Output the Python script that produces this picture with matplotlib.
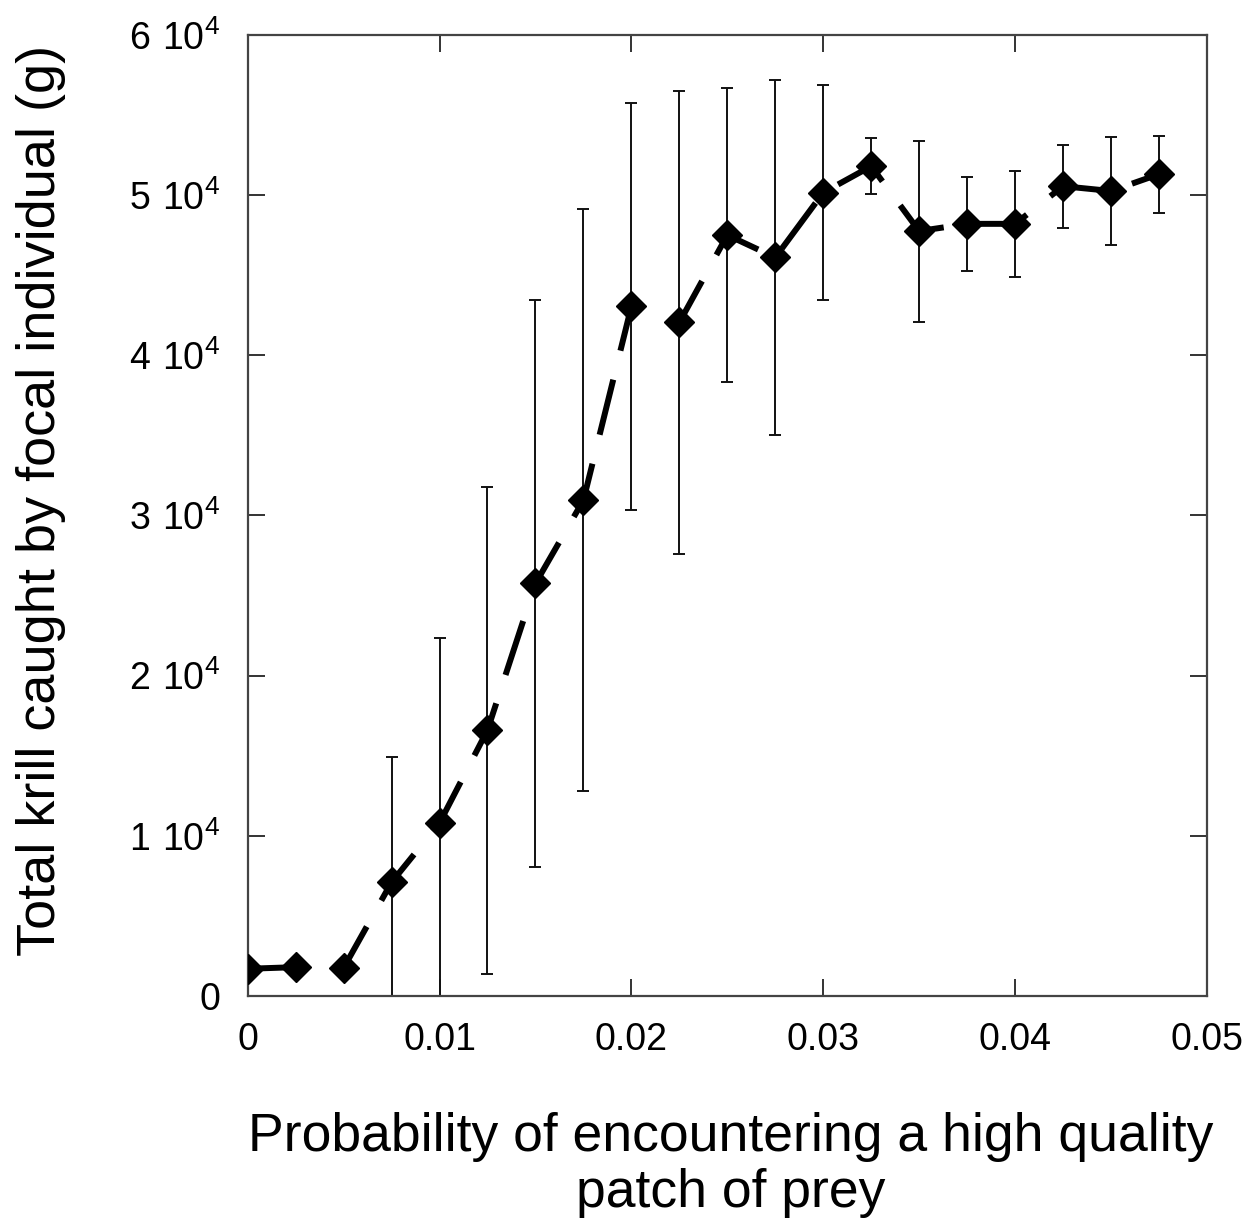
import numpy as np
import matplotlib
matplotlib.use('Agg')
import matplotlib.pyplot as plt

plt.rcParams['font.family'] = ['Liberation Sans', 'DejaVu Sans']
plt.rcParams['mathtext.fontset'] = 'custom'
plt.rcParams['mathtext.rm'] = 'Liberation Sans'

# probability of a high quality patch and mean krill caught (g) with sd
prob = [0.0, 0.0025, 0.005, 0.0075, 0.01, 0.0125, 0.015, 0.0175, 0.02, 0.0225,
        0.025, 0.0275, 0.03, 0.0325, 0.035, 0.0375, 0.04, 0.0425, 0.045, 0.0475]
krill = [1700, 1800, 1750, 7100, 10800, 16600, 25750, 30950, 43050, 42050,
         47500, 46100, 50150, 51800, 47750, 48200, 48200, 50550, 50250, 51300]
krill_sd = [0, 0, 0, 7800, 11550, 15200, 17700, 18150, 12700, 14450,
            9150, 11050, 6700, 1750, 5650, 2950, 3300, 2600, 3400, 2400]

xticks = [0, 0.01, 0.02, 0.03, 0.04, 0.05]
xtick_labels = ['0', '0.01', '0.02', '0.03', '0.04', '0.05']
yticks = [0, 10000, 20000, 30000, 40000, 50000, 60000]
ytick_labels = ['0'] + [r'$\mathrm{%d\ 10^{4}}$' % i for i in range(1, 7)]

fig = plt.figure(figsize=(12.54, 12.26), dpi=100)
ax = fig.add_axes([0.1975, 0.1876, 0.765, 0.784])

ax.errorbar(prob, krill, yerr=krill_sd, fmt='none', ecolor='#111111',
            elinewidth=1.4, capsize=4.3, capthick=1.4, zorder=2)
ax.plot(prob, krill, color='black', lw=4.3, dashes=(9.5, 5),
        marker='D', ms=15.5, mfc='black', mec='black', zorder=3)

ax.set_xlim(0, 0.05)
ax.set_ylim(0, 60000)
ax.set_xticks(xticks)
ax.set_xticklabels(xtick_labels)
ax.set_yticks(yticks)
ax.set_yticklabels(ytick_labels)
ax.tick_params(direction='in', length=12, width=1.4, color='#333333',
               labelsize=27, top=True, right=True)
ax.tick_params(axis='x', pad=19)
ax.tick_params(axis='y', pad=20)
for sp in ax.spines.values():
    sp.set_linewidth(1.6)
    sp.set_color('#444444')

ax.set_xlabel('Probability of encountering a high quality\npatch of prey',
              fontsize=38.5, linespacing=1.15)
ax.xaxis.set_label_coords(0.504, -0.121)
ax.set_ylabel('Total krill caught by focal individual (g)', fontsize=39)
ax.yaxis.set_label_coords(-0.189, 0.516)

fig.savefig('out.png', dpi=100)
